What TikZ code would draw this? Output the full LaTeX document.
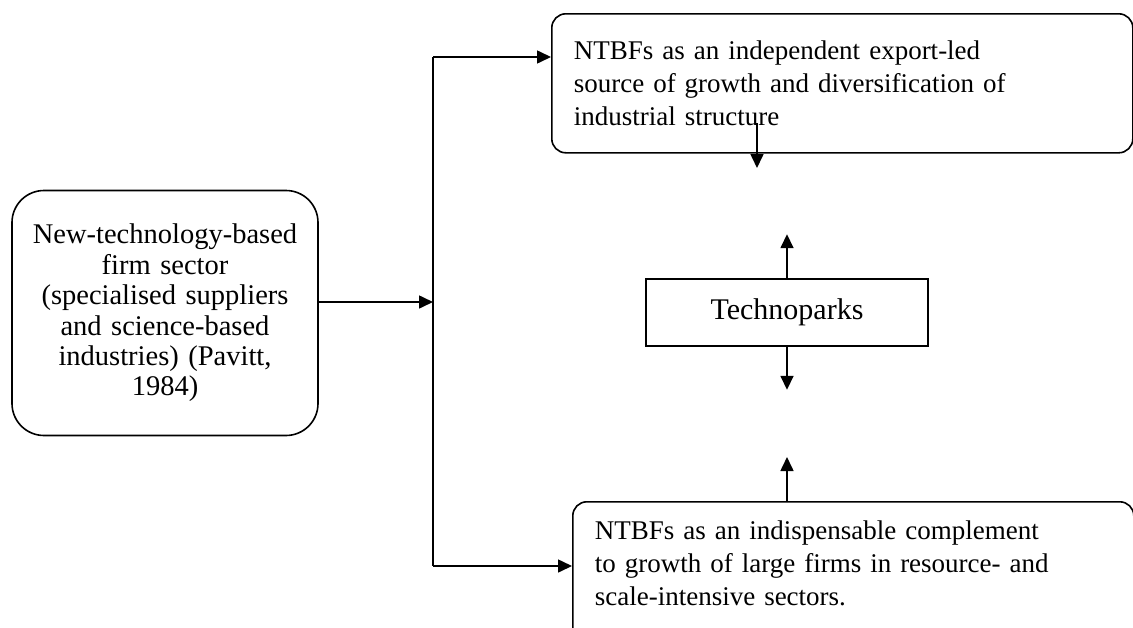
\documentclass[tikz,border=0pt]{standalone}
\usepackage{fontspec}
\setmainfont{Liberation Serif}
\usetikzlibrary{arrows.meta}
\begin{document}
\begin{tikzpicture}[x=1pt,y=-1pt,
  line/.style={line width=1.6pt},
  arr/.style={line width=1.6pt,-{Triangle[length=14pt,width=13pt]}},
  rbox/.style={draw,line width=1.6pt,rounded corners=14pt,inner xsep=22pt,align=left},
  font=\fontsize{27}{33}\selectfont]
\useasboundingbox (0,0) rectangle (1133,627);
\clip (0,0) rectangle (1133,627);
% left box
\node[draw,line width=1.6pt,rounded corners=32pt,minimum width=306pt,minimum height=245pt,
      text width=290pt,align=center,inner sep=0pt,font=\fontsize{28.5}{30.4}\selectfont]
  (src) at (165,313) {New-technology-based\\firm sector\\(specialised suppliers\\and science-based\\industries) (Pavitt,\\1984)};
% top box
\node[rbox,anchor=north west,minimum width=581pt,minimum height=139pt,text width=537pt,inner ysep=20pt]
  (top) at (551,13) {NTBFs as an independent export-led\\source of growth and diversification of\\industrial structure\par\vspace*{8pt}};
% technoparks
\node[draw,line width=1.6pt,minimum width=282pt,minimum height=67pt,inner sep=0pt,font=\fontsize{30}{36}\selectfont]
  (tech) at (787,312.5) {Technoparks};
% bottom box
\node[rbox,anchor=north west,minimum width=561pt,text width=517pt,inner ysep=19pt]
  (bot) at (572,501) {NTBFs as an indispensable complement\\to growth of large firms in resource- and\\scale-intensive sectors.\\[40pt]\mbox{}};
% junction
\coordinate (j) at (433,302);
\coordinate (jt) at (433,57);
\coordinate (jb) at (433,566);
\draw[arr] (src.east |- j) -- (j);
\draw[line] (jt) -- (jb);
\draw[arr] (jt) -- (top.west |- jt);
\draw[arr] (jb) -- (bot.west |- jb);
% vertical arrows
\coordinate (t1) at (757,123);
\coordinate (t2) at (757,168);
\draw[arr] (t1) -- (t2);
\draw[arr] (tech.north) -- ++(0,-44);
\draw[arr] (tech.south) -- ++(0,43);
\coordinate (bn) at (787,501);
\draw[arr] (bn) -- ++(0,-44);
\end{tikzpicture}
\end{document}
